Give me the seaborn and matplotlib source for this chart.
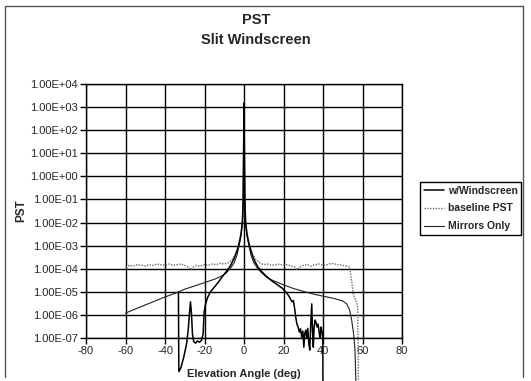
import numpy as np
import pandas as pd
import matplotlib
matplotlib.use("Agg")
import matplotlib.pyplot as plt
from matplotlib.lines import Line2D
from matplotlib.ticker import FixedLocator, FuncFormatter
import seaborn as sns

# values (PST vs elevation angle, deg)
ws_angle = [-33.2, -33.0, -32.0, -30.5, -29.0, -28.2, -27.6, -27.1, -26.6, -26.1, -25.5, -24.5,
            -23.5, -22.5, -21.5, -20.7, -20.2, -19.5, -18.5, -17.0, -15.0, -13.0, -11.0, -9.0,
            -7.0, -5.0, -3.5, -2.5, -1.5, -0.8, -0.4, -0.2, 0.0, 0.2, 0.4, 0.8, 1.5, 2.5, 3.5,
            5.0, 7.0, 9.0, 11.0, 14.0, 17.0, 19.5, 21.5, 22.5, 23.5, 24.3, 25.0, 25.6, 26.2,
            26.8, 27.4, 28.0, 28.6, 29.2, 29.8, 30.3, 30.8, 31.3, 31.8, 32.3, 32.8, 33.3, 33.8,
            34.3, 34.7, 35.1, 35.5, 36.0, 36.5, 37.0, 37.5, 38.0, 38.5, 39.0, 39.5, 39.9, 40.0]
ws_pst = [1.0e-5, 3.5e-9, 5e-9, 1.5e-8, 6e-8, 2.5e-7, 1.2e-6, 3.7e-6, 1.2e-6, 1.5e-7, 7e-8, 6e-8,
          7.5e-8, 6.5e-8, 8e-8, 1.5e-7, 1.3e-6, 2.8e-6, 5.5e-6, 1e-5, 1.6e-5, 2.6e-5, 4.5e-5, 7.5e-5,
          1.3e-4, 2.8e-4, 6e-4, 1.2e-3, 3e-3, 1e-2, 1e-1, 1e1, 1.5e3, 1e1, 1e-1, 1e-2, 3e-3, 1.2e-3, 6e-4,
          2.5e-4, 1.2e-4, 7.5e-5, 5e-5, 3e-5, 2e-5, 1.4e-5, 9e-6, 7e-6, 5e-6, 3.7e-6, 4.2e-6, 2e-6, 8e-7,
          4e-7, 3e-7, 1.8e-7, 2.5e-7, 1.1e-7, 2e-7, 4e-8, 1.6e-7, 2.2e-7, 1e-7, 2.6e-7, 6e-8, 3e-8, 4e-7,
          3e-6, 2e-7, 4e-8, 3e-7, 6e-7, 4.5e-7, 3e-7, 4e-7, 2e-7, 1e-7, 3e-7, 2e-7, 8e-8, 1e-10]

base_angle = [-60, -58, -56, -54, -52, -50, -48, -46, -44, -42, -40, -38, -36, -34, -32, -30,
              -28.5, -27, -25.5, -24, -22, -20, -18, -16, -14, -12, -10, -8, -6, -4.5, -3.5, -2.5,
              -1.5, -0.8, -0.4, -0.2, 0.0, 0.2, 0.4, 0.8, 1.5, 2.5, 3.5, 4.5, 6, 8, 10, 12, 14, 16,
              18, 20, 22, 24, 25.5, 27, 28.5, 30, 32, 34, 36, 38, 40, 42, 44, 46, 48, 50, 52, 53.5,
              54.5, 55.3, 56.2, 57.0, 57.6, 58.0]
base_pst = [1.2e-4, 1.4e-4, 1.3e-4, 1.5e-4, 1.4e-4, 1.3e-4, 1.5e-4, 1.4e-4, 1.6e-4, 1.5e-4,
            1.4e-4, 1.6e-4, 1.4e-4, 1.5e-4, 1.6e-4, 1.4e-4, 1.2e-4, 9e-5, 1.2e-4, 1.4e-4, 1.3e-4,
            1.5e-4, 1.4e-4, 1.6e-4, 1.5e-4, 1.7e-4, 1.6e-4, 1.8e-4, 2.5e-4, 4e-4, 7e-4, 1.5e-3,
            4e-3, 1.5e-2, 2e-1, 3e1, 1.8e3, 3e1, 2e-1, 1.5e-2, 4e-3, 1.5e-3, 7e-4, 4e-4, 2.5e-4, 1.8e-4,
            1.5e-4, 1.6e-4, 1.4e-4, 1.5e-4, 1.6e-4, 1.4e-4, 1.5e-4, 1.3e-4, 1.2e-4, 9e-5, 1.2e-4,
            1.4e-4, 1.5e-4, 1.3e-4, 1.5e-4, 1.6e-4, 1.4e-4, 1.5e-4, 1.7e-4, 1.6e-4, 1.5e-4, 1.4e-4,
            1.3e-4, 1.2e-4, 3e-5, 8e-6, 5e-6, 3.5e-6, 2e-6, 1e-10]

mir_angle = [-60, -55, -50, -45, -40, -35, -30, -25, -20, -15, -12, -9, -7, -5, -3.5, -2.5,
             -1.5, -0.8, -0.4, -0.2, 0.0, 0.2, 0.4, 0.8, 1.5, 2.5, 3.5, 5, 7, 9, 12, 15, 20, 25,
             30, 35, 40, 45, 50, 52, 53.5, 54.5, 55.5, 56.2, 57.0]
mir_pst = [1.2e-6, 1.8e-6, 2.7e-6, 4e-6, 6e-6, 8.5e-6, 1.3e-5, 1.8e-5, 2.5e-5, 3.5e-5, 4.5e-5,
           6.5e-5, 1e-4, 1.8e-4, 4e-4, 1e-3, 3e-3, 1e-2, 1e-1, 1e1, 1.5e3, 1e1, 1e-1, 1e-2, 3e-3,
           1e-3, 4e-4, 1.8e-4, 1e-4, 6.5e-5, 4e-5, 3e-5, 2e-5, 1.4e-5, 1.05e-5, 8e-6, 6.5e-6, 5.3e-6,
           4e-6, 3e-6, 1.6e-6, 6e-7, 1.5e-7, 3e-8, 1e-10]

series_names = ["w/Windscreen", "baseline PST", "Mirrors Only"]
x_ticks = [-80, -60, -40, -20, 0, 20, 40, 60, 80]
y_ticks = [1e-7, 1e-6, 1e-5, 1e-4, 1e-3, 1e-2, 1e-1, 1e0, 1e1, 1e2, 1e3, 1e4]

df_ws = pd.DataFrame({"angle": ws_angle, "pst": ws_pst})
df_base = pd.DataFrame({"angle": base_angle, "pst": base_pst})
df_mir = pd.DataFrame({"angle": mir_angle, "pst": mir_pst})

sns.set_style("white")
plt.rcParams["font.family"] = ["Liberation Sans", "DejaVu Sans"]
plt.rcParams["axes.unicode_minus"] = False

fig = plt.figure(figsize=(5.31, 3.81), dpi=100)
ax = fig.add_axes([86/531, 1-338/381, 316/531, 254/381])

sns.lineplot(data=df_mir, x="angle", y="pst", ax=ax, color="#222222", lw=0.8,
             estimator=None, label=series_names[2])
sns.lineplot(data=df_base, x="angle", y="pst", ax=ax, color="#6a6a6a", lw=1.0, ls=(0, (1, 1)),
             estimator=None, label=series_names[1])
sns.lineplot(data=df_ws, x="angle", y="pst", ax=ax, color="black", lw=1.1,
             estimator=None, label=series_names[0])
for ln in ax.get_lines():
    ln.set_clip_on(False)

ax.set_yscale("log")
ax.set_xlim(-80, 80)
ax.set_ylim(1e-7, 1e4)
ax.xaxis.set_major_locator(FixedLocator(x_ticks))
ax.yaxis.set_major_locator(FixedLocator(y_ticks))
ax.yaxis.set_minor_locator(FixedLocator([]))
ax.yaxis.set_major_formatter(FuncFormatter(lambda v, p: f"{v:.2E}"))
ax.grid(True, color="black", lw=1.0)
ax.set_axisbelow(True)
for s in ax.spines.values():
    s.set_color("black")
    s.set_linewidth(1.0)
ax.tick_params(axis="both", direction="out", length=4, width=1.0, color="black",
               labelsize=8, pad=2, left=True, bottom=True)

ax.set_xlabel("Elevation Angle (deg)", fontsize=8, fontweight="bold")
ax.xaxis.set_label_coords(0.5, -0.122)
ax.set_ylabel("PST", fontsize=8.5, fontweight="bold")
ax.yaxis.set_label_coords(-0.187, 0.5)

fig.text(256/531, 1-20/381, "PST", ha="center", va="center", fontsize=10.5, fontweight="bold")
fig.text(256/531, 1-40/381, "Slit Windscreen", ha="center", va="center", fontsize=10.5, fontweight="bold")

ax.get_legend().remove()
h, l = ax.get_legend_handles_labels()
order = [l.index(n) for n in series_names]
leg = fig.legend([h[i] for i in order], [l[i] for i in order], loc="upper left",
                 bbox_to_anchor=(420/531, 1-182/381), borderaxespad=0, fancybox=False,
                 edgecolor="black", framealpha=1, handlelength=2, handletextpad=0.3,
                 labelspacing=0.75, borderpad=0.35, prop={"size": 7.5, "weight": "bold"})
leg.get_frame().set_linewidth(1.0)

# outer chart border (bottom cut off in the scan)
bx0, bx1, by0, by1 = 5/531, 523/531, 1-377/381, 1-6/381
fig.add_artist(Line2D([bx0, bx0, bx1, bx1], [by0, by1, by1, by0], transform=fig.transFigure,
                      color="#555555", lw=1.0))

fig.savefig("out.png", dpi=100)
